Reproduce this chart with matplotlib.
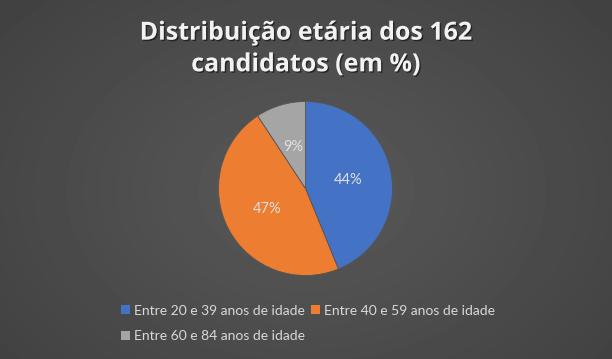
import numpy as np
import matplotlib.pyplot as plt
import matplotlib.patheffects as pe

# age distribution of the 162 candidates
categories = ["Entre 20 e 39 anos de idade",
              "Entre 40 e 59 anos de idade",
              "Entre 60 e 84 anos de idade"]
counts = [71, 76, 15]
colors = ["#4472C4", "#ED7D31", "#A5A5A5"]
title = "Distribuição etária dos 162\ncandidatos (em %)"

plt.rcParams['font.family'] = ['Lato', 'DejaVu Sans']

fig = plt.figure(figsize=(6.12, 3.59), dpi=100)

# radial dark background like the Excel style
bg = fig.add_axes([0, 0, 1, 1])
yy, xx = np.mgrid[0:359, 0:612]
r = np.sqrt(((xx - 306) / 420.0) ** 2 + ((yy - 190) / 300.0) ** 2)
shade = np.clip(0.35 - 0.10 * r, 0.24, 0.36)
bg.imshow(shade, cmap='gray', vmin=0, vmax=1, aspect='auto')
bg.axis('off')

# pie
cx, cy, rad = 305.5 / 612, 1 - 188.5 / 359, 87
w, h = 2 * rad / 612, 2 * rad / 359
ax = fig.add_axes([cx - w / 2, cy - h / 2, w, h])
wedges, texts, autotexts = ax.pie(
    counts, colors=colors, startangle=90, counterclock=False,
    autopct='%1.0f%%', pctdistance=0.5,
    wedgeprops=dict(edgecolor='#555555', linewidth=0.6),
    textprops=dict(color='#e0e0e0', fontsize=10.5))
ax.set_xlim(-1, 1)
ax.set_ylim(-1, 1)
ax.set_aspect('auto')
ax.axis('off')

fig.text(0.5, 1 - 49 / 359, title, ha='center', va='center', family=['Open Sans', 'DejaVu Sans'],
         fontsize=18, fontweight='bold', color='#f2f2f2', linespacing=1.35,
         path_effects=[pe.withSimplePatchShadow(offset=(1, -1), shadow_rgbFace='black', alpha=0.5)])

# legend in row order: two on top, one below
order = [0, 2, 1]
leg = fig.legend([wedges[i] for i in order], [categories[i] for i in order],
                 ncol=2, loc='center', bbox_to_anchor=(0.503, 1 - 323.5 / 359),
                 frameon=False, fontsize=10, handlelength=0.65, handleheight=0.65,
                 handletextpad=0.3, columnspacing=0.4, labelspacing=1.0)
for t in leg.get_texts():
    t.set_color('#d9d9d9')
for p in leg.get_patches():
    p.set_edgecolor('none')

fig.savefig('out.png', dpi=100)
